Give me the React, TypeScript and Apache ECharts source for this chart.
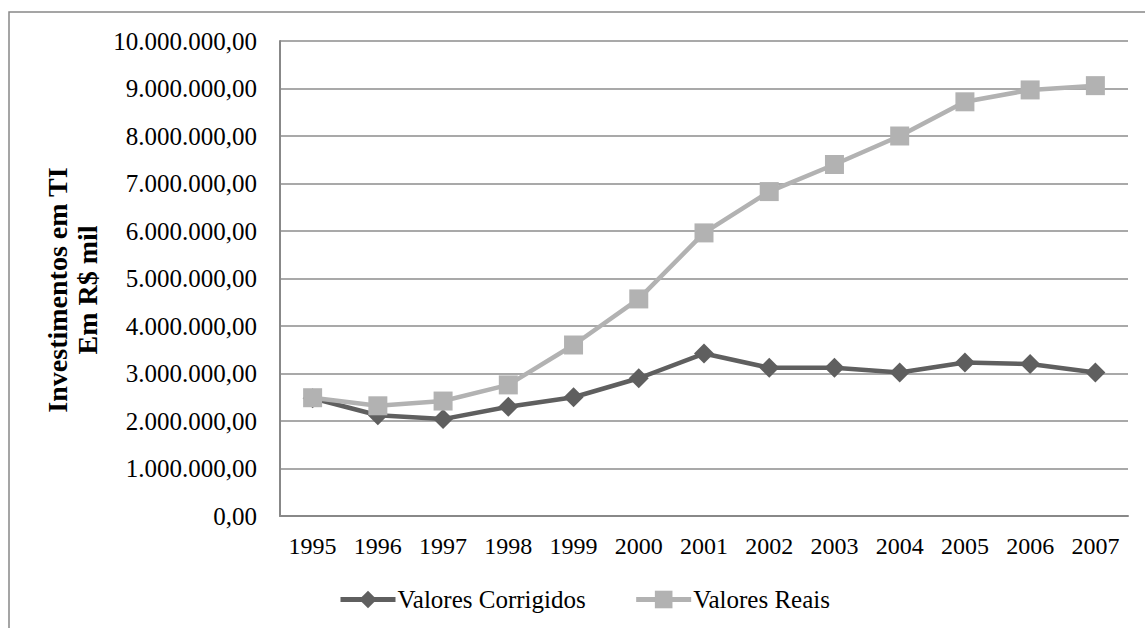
import React, { useEffect, useRef } from "react";
import * as echarts from "echarts";

const years = ["1995", "1996", "1997", "1998", "1999", "2000", "2001", "2002", "2003", "2004", "2005", "2006", "2007"];
const valoresCorrigidos = [2480000, 2120000, 2040000, 2300000, 2500000, 2900000, 3420000, 3120000, 3120000, 3020000, 3230000, 3200000, 3020000];
const valoresReais = [2490000, 2320000, 2420000, 2760000, 3600000, 4570000, 5960000, 6830000, 7400000, 8000000, 8720000, 8970000, 9060000];
const seriesNames = ["Valores Corrigidos", "Valores Reais"];
const yTitle = "Investimentos em TI\nEm R$ mil";

const FONT = "Liberation Serif";

function fmt(v: number): string {
  const s = Math.round(v).toString();
  const withDots = s.replace(/\B(?=(\d{3})+(?!\d))/g, ".");
  return withDots + ",00";
}

export default function App() {
  const ref = useRef<HTMLDivElement>(null);
  useEffect(() => {
    if (!ref.current) return;
    const chart = echarts.init(ref.current, undefined, { renderer: "svg" });
    chart.setOption({
      animation: false,
      backgroundColor: "#ffffff",
      textStyle: { fontFamily: FONT },
      grid: { left: 280, right: 17, top: 41, bottom: 112, containLabel: false },
      graphic: [
        {
          type: "rect",
          shape: { x: 9, y: 12, width: 1160, height: 700 },
          style: { fill: "none", stroke: "#888888", lineWidth: 1.5 },
          silent: true,
        },
        {
          type: "text",
          x: 72,
          y: 290,
          rotation: Math.PI / 2,
          style: {
            text: yTitle,
            fontFamily: FONT,
            fontWeight: "bold",
            fontSize: 28,
            fill: "#000",
            align: "center",
            verticalAlign: "middle",
            lineHeight: 30,
          },
        },
      ],
      legend: {
        left: 333,
        top: 582,
        itemWidth: 55,
        itemHeight: 22,
        itemGap: 48,
        lineStyle: { width: 5 },
        textStyle: { fontFamily: FONT, fontSize: 25, color: "#000", padding: [0, 0, 0, -3] },
        data: seriesNames,
      },
      xAxis: {
        type: "category",
        data: years,
        boundaryGap: true,
        axisLine: { show: true, lineStyle: { color: "#888888", width: 2 } },
        axisTick: { show: false },
        axisLabel: { fontFamily: FONT, fontSize: 24, color: "#000", margin: 18, interval: 0 },
        splitLine: { show: false },
      },
      yAxis: {
        type: "value",
        min: 0,
        max: 10000000,
        interval: 1000000,
        axisLine: { show: true, lineStyle: { color: "#888888", width: 2 } },
        axisTick: { show: false },
        axisLabel: { fontFamily: FONT, fontSize: 25, color: "#000", margin: 23, formatter: (v: number) => fmt(v) },
        splitLine: { show: true, lineStyle: { color: "#8c8c8c", width: 1.5 } },
      },
      series: [
        {
          name: seriesNames[0],
          type: "line",
          data: valoresCorrigidos,
          symbol: "diamond",
          symbolSize: 20,
          z: 2,
          lineStyle: { color: "#5f5f5f", width: 4.5 },
          itemStyle: { color: "#5f5f5f" },
        },
        {
          name: seriesNames[1],
          type: "line",
          data: valoresReais,
          symbol: "rect",
          symbolSize: 19,
          z: 3,
          lineStyle: { color: "#b2b2b2", width: 4.5 },
          itemStyle: { color: "#b2b2b2" },
        },
      ],
    });
    return () => chart.dispose();
  }, []);
  return <div ref={ref} style={{ position: "absolute", left: 0, top: 0, width: 1145, height: 628 }} />;
}
